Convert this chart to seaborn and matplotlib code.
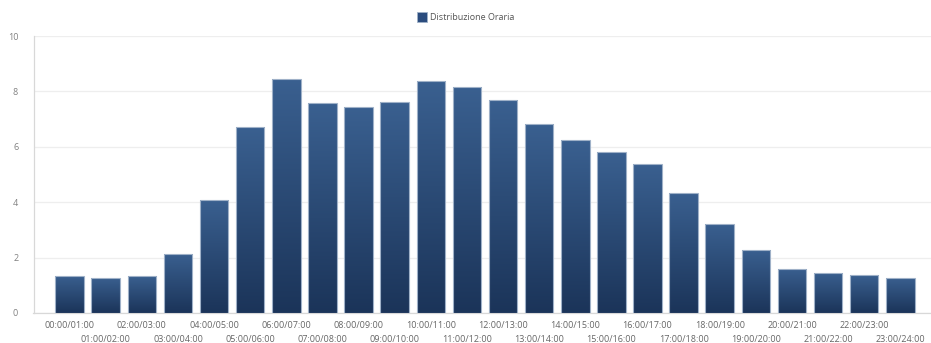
import matplotlib
matplotlib.use("Agg")
import matplotlib.pyplot as plt
import numpy as np
import pandas as pd
import seaborn as sns
from matplotlib.colors import LinearSegmentedColormap
from matplotlib.patches import Patch

# hourly slots and the values
slots = [
    "00:00/01:00", "01:00/02:00", "02:00/03:00", "03:00/04:00",
    "04:00/05:00", "05:00/06:00", "06:00/07:00", "07:00/08:00",
    "08:00/09:00", "09:00/10:00", "10:00/11:00", "11:00/12:00",
    "12:00/13:00", "13:00/14:00", "14:00/15:00", "15:00/16:00",
    "16:00/17:00", "17:00/18:00", "18:00/19:00", "19:00/20:00",
    "20:00/21:00", "21:00/22:00", "22:00/23:00", "23:00/24:00",
]
values = [
    1.35, 1.28, 1.33, 2.13, 4.08, 6.70, 8.46, 7.58,
    7.42, 7.63, 8.37, 8.16, 7.70, 6.81, 6.23, 5.80,
    5.37, 4.35, 3.23, 2.28, 1.60, 1.45, 1.36, 1.27,
]
y_ticks = [0, 2, 4, 6, 8, 10]
series_name = "Distribuzione Oraria"

df = pd.DataFrame({"slot": slots, "value": values})

sns.set_theme(style="white")
plt.rcParams["font.family"] = ["Open Sans", "DejaVu Sans"]

fig = plt.figure(figsize=(9.31, 3.43), dpi=100)
ax = fig.add_axes([33.5 / 931, 30 / 343, (931 - 33.5) / 931, 277 / 343])

sns.barplot(data=df, x="slot", y="value", color="#2b4c7e", width=0.79,
            edgecolor="#9fb1c8", linewidth=0.8, ax=ax, zorder=3)

# vertical gradient inside each bar
cmap = LinearSegmentedColormap.from_list("bar", ["#1b3459", "#3a6090"])
grad = np.linspace(0, 1, 256).reshape(-1, 1)
for bar in ax.patches:
    x0, y0 = bar.get_x(), bar.get_y()
    w, h = bar.get_width(), bar.get_height()
    im = ax.imshow(grad, cmap=cmap, origin="lower", aspect="auto",
                   extent=[x0, x0 + w, y0, y0 + h], zorder=3.5)
    im.set_clip_path(bar)
    bar.set_zorder(4)
    bar.set_facecolor("none")

ax.set_xlim(-1.0, 23.85)
ax.set_ylim(0, 10)
ax.set_yticks(y_ticks)
ax.set_yticklabels([str(t) for t in y_ticks], fontsize=6.5, color="#808080")
ax.yaxis.grid(True, color="#eeeeee", linewidth=0.9, zorder=0)
ax.set_axisbelow(True)

ax.set_xticks(range(len(slots)))
ax.set_xticklabels(slots, fontsize=6.5, color="#666666")
ax.tick_params(axis="x", length=4, width=0.6, color="#cccccc")
# staggered labels: odd slots on a second row
for i, tick in enumerate(ax.xaxis.get_major_ticks()):
    tick.set_pad(2 if i % 2 == 0 else 12)
ax.tick_params(axis="y", length=0, pad=11)

for side in ["top", "right"]:
    ax.spines[side].set_visible(False)
ax.spines["left"].set_color("#d8d8d8")
ax.spines["bottom"].set_color("#d8d8d8")
ax.spines["left"].set_linewidth(0.9)
ax.spines["bottom"].set_linewidth(0.9)
ax.set_xlabel("")
ax.set_ylabel("")

handle = Patch(facecolor="#2b4c7e", edgecolor="#9fb1c8", linewidth=0.6)
fig.legend([handle], [series_name], loc="center", bbox_to_anchor=(0.5, 1 - 17 / 343),
           frameon=False, fontsize=6.5, handlelength=1.1, handleheight=1.3,
           handletextpad=0.3, labelcolor="#555555")

fig.savefig("out.png", dpi=100)
